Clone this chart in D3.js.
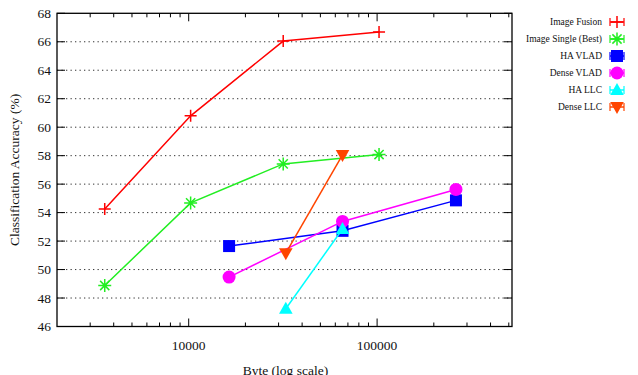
<!DOCTYPE html>
<html>
<head>
<meta charset="utf-8">
<script src="https://cdn.jsdelivr.net/npm/d3@7"></script>
<style>
  html, body { margin: 0; padding: 0; background: #fff; }
  svg { display: block; font-family: "Liberation Serif", "DejaVu Serif", serif; }
</style>
</head>
<body>
<div id="chart"></div>
<script>
// x values in bytes, y values in % accuracy
const seriesNames = ['Image Fusion', 'Image Single (Best)', 'HA VLAD', 'Dense VLAD', 'HA LLC', 'Dense LLC'];
const seriesColors = ['#ff0000', '#22ee22', '#0000ff', '#ff00ff', '#00ffff', '#ff4500'];
const seriesSymbols = ['plus', 'star', 'square', 'circle', 'triUp', 'triDown'];

const imageBytes = [3584, 10240, 31744, 102400];
const imageFusionAcc = [54.25, 60.8, 66.05, 66.68];
const imageSingleAcc = [48.88, 54.68, 57.42, 58.08];

const vladBytes = [16384, 65536, 262144];
const haVladAcc = [51.65, 52.72, 54.86];
const denseVladAcc = [49.47, 53.38, 55.63];

const llcBytes = [32768, 65536];
const haLlcAcc = [47.25, 52.85];
const denseLlcAcc = [51.15, 58.05];

const yTicks = [46, 48, 50, 52, 54, 56, 58, 60, 62, 64, 66, 68];
const xMajorTicks = [10000, 100000];

const series = [
  { x: imageBytes, y: imageFusionAcc },
  { x: imageBytes, y: imageSingleAcc },
  { x: vladBytes, y: haVladAcc },
  { x: vladBytes, y: denseVladAcc },
  { x: llcBytes, y: haLlcAcc },
  { x: llcBytes, y: denseLlcAcc },
].map((s, i) => ({
  name: seriesNames[i], color: seriesColors[i], symbol: seriesSymbols[i],
  points: s.x.map((x, j) => ({ x, y: s.y[j] })),
}));

const W = 638, H = 375;
const plot = { left: 57, right: 512, top: 13.3, bottom: 326.5 };

const svg = d3.select('#chart').append('svg').attr('width', W).attr('height', H);

const x = d3.scaleLog().domain([2000, 520000]).range([plot.left, plot.right]);
const y = d3.scaleLinear().domain([46, 68]).range([plot.bottom, plot.top]);

// dotted grid at inner y ticks
svg.append('g').selectAll('line').data(yTicks.slice(1, -1)).join('line')
  .attr('x1', plot.left).attr('x2', plot.right)
  .attr('y1', (d) => y(d)).attr('y2', (d) => y(d))
  .attr('stroke', '#333').attr('stroke-width', 1).attr('stroke-dasharray', '1.3,3.2');

// minor x ticks (all 1..9 multiples inside the domain)
const xMinor = [];
for (let dec = 1000; dec <= 100000; dec *= 10) {
  for (let k = 1; k <= 9; k++) {
    const v = dec * k;
    if (v > 2000 && v < 520000 && !xMajorTicks.includes(v)) xMinor.push(v);
  }
}

const ticks = svg.append('g').attr('stroke', '#000').attr('stroke-width', 1);
// x ticks, bottom and mirrored on top
xMinor.forEach((v) => {
  ticks.append('line').attr('x1', x(v)).attr('x2', x(v)).attr('y1', plot.bottom).attr('y2', plot.bottom - 4);
  ticks.append('line').attr('x1', x(v)).attr('x2', x(v)).attr('y1', plot.top).attr('y2', plot.top + 4);
});
xMajorTicks.forEach((v) => {
  ticks.append('line').attr('x1', x(v)).attr('x2', x(v)).attr('y1', plot.bottom).attr('y2', plot.bottom - 8);
  ticks.append('line').attr('x1', x(v)).attr('x2', x(v)).attr('y1', plot.top).attr('y2', plot.top + 8);
});
// y ticks, left and right
yTicks.forEach((v) => {
  ticks.append('line').attr('x1', plot.left).attr('x2', plot.left + 8).attr('y1', y(v)).attr('y2', y(v));
  ticks.append('line').attr('x1', plot.right).attr('x2', plot.right - 8).attr('y1', y(v)).attr('y2', y(v));
});

// tick labels
svg.append('g').selectAll('text').data(yTicks).join('text')
  .attr('x', plot.left - 6).attr('y', (d) => y(d)).attr('dy', '0.35em')
  .attr('text-anchor', 'end').attr('font-size', 13.5).attr('fill', '#111')
  .text((d) => d);
svg.append('g').selectAll('text').data(xMajorTicks).join('text')
  .attr('x', (d) => x(d)).attr('y', 345).attr('dy', '0.35em')
  .attr('text-anchor', 'middle').attr('font-size', 13.5).attr('fill', '#111')
  .text((d) => d);

// axis titles
svg.append('text').attr('x', (plot.left + plot.right) / 2 + 1).attr('y', 370).attr('dy', '0.35em')
  .attr('text-anchor', 'middle').attr('font-size', 13.5).attr('fill', '#111').text('Byte (log scale)');
svg.append('text').attr('transform', `translate(14,${(plot.top + plot.bottom) / 2}) rotate(-90)`)
  .attr('dy', '0.35em').attr('text-anchor', 'middle').attr('font-size', 13.5).attr('fill', '#111')
  .text('Classification Accuracy (%)');

// marker drawing
function drawMarker(g, sym, color, cx, cy) {
  const m = g.append('g').attr('transform', `translate(${cx},${cy})`);
  if (sym === 'plus') {
    m.append('path').attr('d', 'M-6,0H6M0,-6V6').attr('stroke', color).attr('stroke-width', 1.5).attr('fill', 'none');
  } else if (sym === 'star') {
    m.append('path').attr('d', 'M-6.5,0H6.5M0,-6.5V6.5M-4.6,-4.6L4.6,4.6M-4.6,4.6L4.6,-4.6')
      .attr('stroke', color).attr('stroke-width', 1.5).attr('fill', 'none');
  } else if (sym === 'square') {
    m.append('rect').attr('x', -6).attr('y', -6).attr('width', 12).attr('height', 12).attr('fill', color);
  } else if (sym === 'circle') {
    m.append('circle').attr('r', 6.5).attr('fill', color);
  } else if (sym === 'triUp') {
    m.append('path').attr('d', 'M0,-7L6.8,5L-6.8,5Z').attr('fill', color);
  } else if (sym === 'triDown') {
    m.append('path').attr('d', 'M0,7L6.8,-5L-6.8,-5Z').attr('fill', color);
  }
}

const line = d3.line().x((d) => x(d.x)).y((d) => y(d.y));
series.forEach((s) => {
  const g = svg.append('g');
  g.append('path').datum(s.points).attr('d', line)
    .attr('fill', 'none').attr('stroke', s.color).attr('stroke-width', 1.5);
  s.points.forEach((p) => drawMarker(g, s.symbol, s.color, x(p.x), y(p.y)));
});

// plot border
svg.append('rect').attr('x', plot.left).attr('y', plot.top)
  .attr('width', plot.right - plot.left).attr('height', plot.bottom - plot.top)
  .attr('fill', 'none').attr('stroke', '#000').attr('stroke-width', 1.3);

// legend
const legend = svg.append('g');
series.forEach((s, i) => {
  const ly = 22 + i * 17;
  legend.append('text').attr('x', 602).attr('y', ly).attr('dy', '0.35em')
    .attr('text-anchor', 'end').attr('font-size', 9.5).attr('fill', '#111').text(s.name);
  legend.append('line').attr('x1', 610).attr('x2', 624).attr('y1', ly).attr('y2', ly)
    .attr('stroke', s.color).attr('stroke-width', 1.5);
  legend.append('line').attr('x1', 610).attr('x2', 610).attr('y1', ly - 4).attr('y2', ly + 4)
    .attr('stroke', s.color).attr('stroke-width', 1.2);
  legend.append('line').attr('x1', 624).attr('x2', 624).attr('y1', ly - 4).attr('y2', ly + 4)
    .attr('stroke', s.color).attr('stroke-width', 1.2);
  drawMarker(legend, s.symbol, s.color, 617, ly);
});
</script>
</body>
</html>
